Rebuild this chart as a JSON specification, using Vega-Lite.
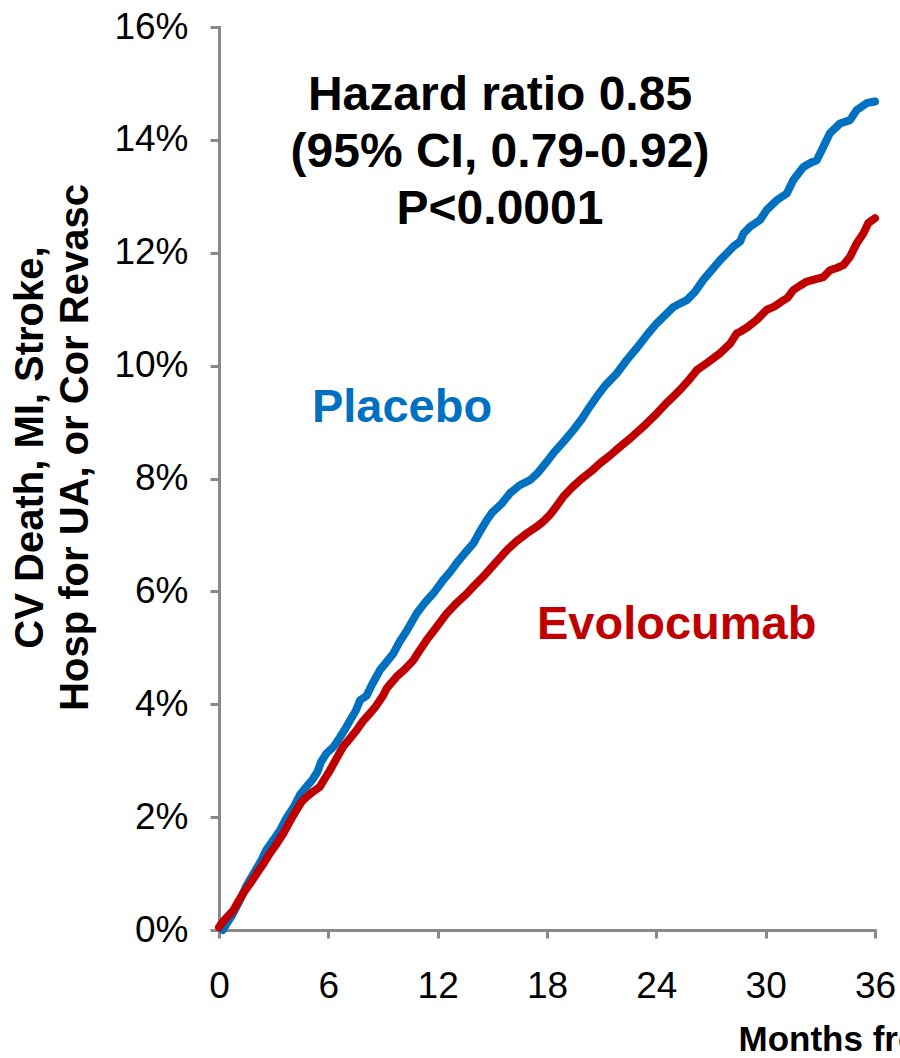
{
  "$schema": "https://vega.github.io/schema/vega-lite/v6.json",
  "width": 656,
  "height": 903,
  "autosize": {"type": "none"},
  "padding": {"left": 219, "top": 27, "right": 25, "bottom": 128},
  "background": "white",
  "config": {
    "view": {"stroke": null},
    "font": "Liberation Sans",
    "axis": {
      "grid": false,
      "domainColor": "#898989",
      "domainWidth": 3,
      "domainCap": "square",
      "tickColor": "#898989",
      "tickWidth": 3,
      "labelFont": "Liberation Sans",
      "labelColor": "#000000",
      "labelFontSize": 37,
      "labelOverlap": false,
      "titleFont": "Liberation Sans",
      "titleColor": "#000000",
      "titleFontWeight": "bold"
    }
  },
  "datasets": {
    "curves": [
      {"arm": "Placebo", "month": 0.2, "pct": 0.0},
      {"arm": "Placebo", "month": 0.7, "pct": 0.25},
      {"arm": "Placebo", "month": 1.15, "pct": 0.53},
      {"arm": "Placebo", "month": 1.5, "pct": 0.78},
      {"arm": "Placebo", "month": 1.9, "pct": 1.0},
      {"arm": "Placebo", "month": 2.3, "pct": 1.22},
      {"arm": "Placebo", "month": 2.6, "pct": 1.42},
      {"arm": "Placebo", "month": 3.0, "pct": 1.6},
      {"arm": "Placebo", "month": 3.35, "pct": 1.77},
      {"arm": "Placebo", "month": 3.7, "pct": 1.98},
      {"arm": "Placebo", "month": 4.1, "pct": 2.18},
      {"arm": "Placebo", "month": 4.45, "pct": 2.4},
      {"arm": "Placebo", "month": 4.8, "pct": 2.54},
      {"arm": "Placebo", "month": 5.1, "pct": 2.65},
      {"arm": "Placebo", "month": 5.4, "pct": 2.8},
      {"arm": "Placebo", "month": 5.6, "pct": 2.98},
      {"arm": "Placebo", "month": 5.9, "pct": 3.13},
      {"arm": "Placebo", "month": 6.3, "pct": 3.25},
      {"arm": "Placebo", "month": 6.65, "pct": 3.42},
      {"arm": "Placebo", "month": 6.9, "pct": 3.55},
      {"arm": "Placebo", "month": 7.2, "pct": 3.72},
      {"arm": "Placebo", "month": 7.5, "pct": 3.88},
      {"arm": "Placebo", "month": 7.74, "pct": 4.07},
      {"arm": "Placebo", "month": 8.1, "pct": 4.15},
      {"arm": "Placebo", "month": 8.4, "pct": 4.35},
      {"arm": "Placebo", "month": 8.84, "pct": 4.61},
      {"arm": "Placebo", "month": 9.2, "pct": 4.75},
      {"arm": "Placebo", "month": 9.57, "pct": 4.9},
      {"arm": "Placebo", "month": 9.9, "pct": 5.1},
      {"arm": "Placebo", "month": 10.3, "pct": 5.3},
      {"arm": "Placebo", "month": 10.85, "pct": 5.61},
      {"arm": "Placebo", "month": 11.3, "pct": 5.8},
      {"arm": "Placebo", "month": 11.8, "pct": 5.98},
      {"arm": "Placebo", "month": 12.3, "pct": 6.2},
      {"arm": "Placebo", "month": 12.7, "pct": 6.35},
      {"arm": "Placebo", "month": 13.04, "pct": 6.5},
      {"arm": "Placebo", "month": 13.5, "pct": 6.68},
      {"arm": "Placebo", "month": 13.96, "pct": 6.85},
      {"arm": "Placebo", "month": 14.3, "pct": 7.05},
      {"arm": "Placebo", "month": 14.69, "pct": 7.26},
      {"arm": "Placebo", "month": 15.0, "pct": 7.4},
      {"arm": "Placebo", "month": 15.5, "pct": 7.55},
      {"arm": "Placebo", "month": 15.97, "pct": 7.74},
      {"arm": "Placebo", "month": 16.5, "pct": 7.88},
      {"arm": "Placebo", "month": 17.07, "pct": 7.97},
      {"arm": "Placebo", "month": 17.5, "pct": 8.1},
      {"arm": "Placebo", "month": 18.0, "pct": 8.3},
      {"arm": "Placebo", "month": 18.35, "pct": 8.45},
      {"arm": "Placebo", "month": 18.9, "pct": 8.65},
      {"arm": "Placebo", "month": 19.45, "pct": 8.86},
      {"arm": "Placebo", "month": 19.9, "pct": 9.05},
      {"arm": "Placebo", "month": 20.3, "pct": 9.25},
      {"arm": "Placebo", "month": 20.73, "pct": 9.45},
      {"arm": "Placebo", "month": 21.2, "pct": 9.65},
      {"arm": "Placebo", "month": 21.8, "pct": 9.85},
      {"arm": "Placebo", "month": 22.38, "pct": 10.1},
      {"arm": "Placebo", "month": 22.9, "pct": 10.3},
      {"arm": "Placebo", "month": 23.5, "pct": 10.55},
      {"arm": "Placebo", "month": 24.02, "pct": 10.75},
      {"arm": "Placebo", "month": 24.5, "pct": 10.9},
      {"arm": "Placebo", "month": 24.94, "pct": 11.04},
      {"arm": "Placebo", "month": 25.3, "pct": 11.1},
      {"arm": "Placebo", "month": 25.67, "pct": 11.16},
      {"arm": "Placebo", "month": 26.1, "pct": 11.3},
      {"arm": "Placebo", "month": 26.58, "pct": 11.52},
      {"arm": "Placebo", "month": 27.0, "pct": 11.68},
      {"arm": "Placebo", "month": 27.5, "pct": 11.87},
      {"arm": "Placebo", "month": 27.9, "pct": 12.0},
      {"arm": "Placebo", "month": 28.23, "pct": 12.11},
      {"arm": "Placebo", "month": 28.6, "pct": 12.2},
      {"arm": "Placebo", "month": 28.78, "pct": 12.34},
      {"arm": "Placebo", "month": 29.14, "pct": 12.46},
      {"arm": "Placebo", "month": 29.69, "pct": 12.58},
      {"arm": "Placebo", "month": 30.06, "pct": 12.76},
      {"arm": "Placebo", "month": 30.6, "pct": 12.93},
      {"arm": "Placebo", "month": 31.16, "pct": 13.05},
      {"arm": "Placebo", "month": 31.52, "pct": 13.29},
      {"arm": "Placebo", "month": 32.07, "pct": 13.52},
      {"arm": "Placebo", "month": 32.5, "pct": 13.6},
      {"arm": "Placebo", "month": 32.8, "pct": 13.64},
      {"arm": "Placebo", "month": 33.17, "pct": 13.88},
      {"arm": "Placebo", "month": 33.53, "pct": 14.12},
      {"arm": "Placebo", "month": 34.08, "pct": 14.29},
      {"arm": "Placebo", "month": 34.63, "pct": 14.35},
      {"arm": "Placebo", "month": 35.0, "pct": 14.53},
      {"arm": "Placebo", "month": 35.54, "pct": 14.65},
      {"arm": "Placebo", "month": 36.0, "pct": 14.68},
      {"arm": "Evolocumab", "month": 0.0, "pct": 0.05},
      {"arm": "Evolocumab", "month": 0.15, "pct": 0.12},
      {"arm": "Evolocumab", "month": 0.5, "pct": 0.25},
      {"arm": "Evolocumab", "month": 0.79, "pct": 0.35},
      {"arm": "Evolocumab", "month": 1.05, "pct": 0.5},
      {"arm": "Evolocumab", "month": 1.33, "pct": 0.65},
      {"arm": "Evolocumab", "month": 1.7, "pct": 0.82},
      {"arm": "Evolocumab", "month": 2.07, "pct": 1.0},
      {"arm": "Evolocumab", "month": 2.45, "pct": 1.18},
      {"arm": "Evolocumab", "month": 2.8, "pct": 1.36},
      {"arm": "Evolocumab", "month": 3.15, "pct": 1.52},
      {"arm": "Evolocumab", "month": 3.53, "pct": 1.71},
      {"arm": "Evolocumab", "month": 3.9, "pct": 1.93},
      {"arm": "Evolocumab", "month": 4.26, "pct": 2.13},
      {"arm": "Evolocumab", "month": 4.55, "pct": 2.28},
      {"arm": "Evolocumab", "month": 4.81, "pct": 2.36},
      {"arm": "Evolocumab", "month": 5.2, "pct": 2.46},
      {"arm": "Evolocumab", "month": 5.54, "pct": 2.54},
      {"arm": "Evolocumab", "month": 5.8, "pct": 2.68},
      {"arm": "Evolocumab", "month": 6.09, "pct": 2.83},
      {"arm": "Evolocumab", "month": 6.45, "pct": 3.04},
      {"arm": "Evolocumab", "month": 6.82, "pct": 3.25},
      {"arm": "Evolocumab", "month": 7.2, "pct": 3.4},
      {"arm": "Evolocumab", "month": 7.55, "pct": 3.54},
      {"arm": "Evolocumab", "month": 7.9, "pct": 3.7},
      {"arm": "Evolocumab", "month": 8.29, "pct": 3.84},
      {"arm": "Evolocumab", "month": 8.6, "pct": 3.96},
      {"arm": "Evolocumab", "month": 9.0, "pct": 4.15},
      {"arm": "Evolocumab", "month": 9.2, "pct": 4.28},
      {"arm": "Evolocumab", "month": 9.75, "pct": 4.49},
      {"arm": "Evolocumab", "month": 10.2, "pct": 4.62},
      {"arm": "Evolocumab", "month": 10.67, "pct": 4.78},
      {"arm": "Evolocumab", "month": 11.0, "pct": 4.95},
      {"arm": "Evolocumab", "month": 11.4, "pct": 5.14},
      {"arm": "Evolocumab", "month": 11.9, "pct": 5.35},
      {"arm": "Evolocumab", "month": 12.5, "pct": 5.61},
      {"arm": "Evolocumab", "month": 13.0, "pct": 5.78},
      {"arm": "Evolocumab", "month": 13.6, "pct": 5.96},
      {"arm": "Evolocumab", "month": 14.0, "pct": 6.1},
      {"arm": "Evolocumab", "month": 14.5, "pct": 6.26},
      {"arm": "Evolocumab", "month": 15.1, "pct": 6.48},
      {"arm": "Evolocumab", "month": 15.8, "pct": 6.73},
      {"arm": "Evolocumab", "month": 16.3, "pct": 6.88},
      {"arm": "Evolocumab", "month": 16.9, "pct": 7.03},
      {"arm": "Evolocumab", "month": 17.5, "pct": 7.16},
      {"arm": "Evolocumab", "month": 17.8, "pct": 7.24},
      {"arm": "Evolocumab", "month": 18.17, "pct": 7.36},
      {"arm": "Evolocumab", "month": 18.5, "pct": 7.5},
      {"arm": "Evolocumab", "month": 18.9, "pct": 7.68},
      {"arm": "Evolocumab", "month": 19.4, "pct": 7.85},
      {"arm": "Evolocumab", "month": 19.81, "pct": 7.97},
      {"arm": "Evolocumab", "month": 20.4, "pct": 8.12},
      {"arm": "Evolocumab", "month": 20.91, "pct": 8.27},
      {"arm": "Evolocumab", "month": 21.5, "pct": 8.42},
      {"arm": "Evolocumab", "month": 22.0, "pct": 8.56},
      {"arm": "Evolocumab", "month": 22.6, "pct": 8.72},
      {"arm": "Evolocumab", "month": 23.29, "pct": 8.92},
      {"arm": "Evolocumab", "month": 24.02, "pct": 9.15},
      {"arm": "Evolocumab", "month": 24.6, "pct": 9.35},
      {"arm": "Evolocumab", "month": 25.3, "pct": 9.57},
      {"arm": "Evolocumab", "month": 25.8, "pct": 9.75},
      {"arm": "Evolocumab", "month": 26.22, "pct": 9.92},
      {"arm": "Evolocumab", "month": 26.8, "pct": 10.05},
      {"arm": "Evolocumab", "month": 27.5, "pct": 10.22},
      {"arm": "Evolocumab", "month": 28.05, "pct": 10.39},
      {"arm": "Evolocumab", "month": 28.41, "pct": 10.57},
      {"arm": "Evolocumab", "month": 28.6, "pct": 10.6},
      {"arm": "Evolocumab", "month": 29.0, "pct": 10.68},
      {"arm": "Evolocumab", "month": 29.51, "pct": 10.81},
      {"arm": "Evolocumab", "month": 30.06, "pct": 10.99},
      {"arm": "Evolocumab", "month": 30.5, "pct": 11.05},
      {"arm": "Evolocumab", "month": 30.8, "pct": 11.12},
      {"arm": "Evolocumab", "month": 31.2, "pct": 11.2},
      {"arm": "Evolocumab", "month": 31.52, "pct": 11.34},
      {"arm": "Evolocumab", "month": 31.9, "pct": 11.42},
      {"arm": "Evolocumab", "month": 32.26, "pct": 11.49},
      {"arm": "Evolocumab", "month": 32.7, "pct": 11.53},
      {"arm": "Evolocumab", "month": 33.17, "pct": 11.57},
      {"arm": "Evolocumab", "month": 33.53, "pct": 11.69},
      {"arm": "Evolocumab", "month": 33.9, "pct": 11.73},
      {"arm": "Evolocumab", "month": 34.26, "pct": 11.78},
      {"arm": "Evolocumab", "month": 34.63, "pct": 11.93},
      {"arm": "Evolocumab", "month": 35.0, "pct": 12.17},
      {"arm": "Evolocumab", "month": 35.36, "pct": 12.34},
      {"arm": "Evolocumab", "month": 35.64, "pct": 12.53},
      {"arm": "Evolocumab", "month": 36.0, "pct": 12.61}
    ],
    "notes": [
      {"label": "Hazard ratio 0.85\n(95% CI, 0.79-0.92)\nP<0.0001", "month": 15.42, "pct": 14.53}
    ],
    "armLabels": [
      {"arm": "Placebo", "month": 5.1, "pct": 9.0},
      {"arm": "Evolocumab", "month": 17.45, "pct": 5.15}
    ]
  },
  "encoding": {
    "x": {
      "field": "month",
      "type": "quantitative",
      "scale": {"domain": [0, 36], "nice": false, "zero": false},
      "axis": {
        "values": [0, 6, 12, 18, 24, 30, 36],
        "tickSize": 8,
        "labelPadding": 30,
        "labelFlush": false,
        "title": "Months from Randomization",
        "titleFontSize": 35,
        "titleX": 519,
        "titleY": 120,
        "titleAlign": "left",
        "titleBaseline": "alphabetic"
      }
    },
    "y": {
      "field": "pct",
      "type": "quantitative",
      "scale": {"domain": [0, 16], "nice": false, "zero": true},
      "axis": {
        "values": [0, 2, 4, 6, 8, 10, 12, 14, 16],
        "labelExpr": "datum.value + '%'",
        "tickSize": 9,
        "labelPadding": 22,
        "title": ["CV Death, MI, Stroke,", "Hosp for UA, or Cor Revasc"],
        "titleFontSize": 40,
        "titleLineHeight": 45,
        "titleAngle": -90,
        "titleX": -177,
        "titleY": 420,
        "titleAlign": "center",
        "titleBaseline": "alphabetic"
      }
    }
  },
  "layer": [
    {
      "data": {"name": "curves"},
      "transform": [{"filter": "datum.arm === 'Placebo'"}],
      "mark": {"type": "line", "color": "#0070C0", "strokeWidth": 8, "strokeCap": "round", "strokeJoin": "round"},
      "encoding": {"order": {"field": "month", "type": "quantitative"}}
    },
    {
      "data": {"name": "curves"},
      "transform": [{"filter": "datum.arm === 'Evolocumab'"}],
      "mark": {"type": "line", "color": "#C00000", "strokeWidth": 8, "strokeCap": "round", "strokeJoin": "round"},
      "encoding": {"order": {"field": "month", "type": "quantitative"}}
    },
    {
      "data": {"name": "notes"},
      "mark": {"type": "text", "font": "Liberation Sans", "fontWeight": "bold", "fontSize": 48, "lineHeight": 57, "lineBreak": "\n", "align": "center", "baseline": "alphabetic", "color": "#000000"},
      "encoding": {"text": {"field": "label", "type": "nominal"}}
    },
    {
      "data": {"name": "armLabels"},
      "mark": {"type": "text", "font": "Liberation Sans", "fontWeight": "bold", "fontSize": 47, "align": "left", "baseline": "alphabetic"},
      "encoding": {
        "text": {"field": "arm", "type": "nominal"},
        "color": {
          "field": "arm",
          "type": "nominal",
          "scale": {"domain": ["Placebo", "Evolocumab"], "range": ["#0070C0", "#C00000"]},
          "legend": null
        }
      }
    }
  ]
}
